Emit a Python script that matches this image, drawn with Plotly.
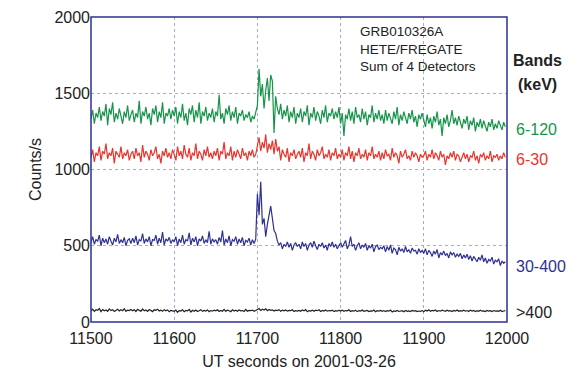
import plotly.graph_objects as go

# bin start times (UT seconds), 2 s bins
t = list(range(11500, 12000, 2))

# 6-120 keV
green = [
    1330,1390,1300,1370,1340,1410,1320,1380,1350,1430,1290,1400,1360,1440,1310,1370,1330,1400,1350,1300,1380,1340,1420,1320,1360,
    1390,1310,1370,1340,1450,1300,1380,1350,1410,1330,1370,1290,1400,1360,1420,1310,1380,1340,1440,1300,1370,1350,1400,1330,1390,
    1350,1410,1300,1380,1340,1430,1320,1370,1290,1400,1360,1420,1310,1390,1340,1440,1300,1380,1350,1410,1320,1370,1340,1400,1310,
    1380,1350,1490,1330,1370,1300,1400,1360,1420,1320,1380,1340,1410,1300,1370,1350,1390,1320,1360,1340,1380,1310,1350,1330,1370,
    1420,1660,1480,1560,1400,1520,1600,1450,1620,1580,1240,1480,1400,1360,1430,1330,1390,1350,1420,1310,1380,1340,1410,1300,1370,
    1340,1400,1310,1380,1350,1420,1290,1370,1340,1410,1320,1380,1350,1300,1390,1340,1420,1310,1370,1350,1400,1330,1380,1340,1410,
    1300,1370,1220,1360,1330,1400,1320,1380,1300,1410,1340,1360,1310,1400,1330,1380,1290,1360,1340,1420,1310,1370,1330,1390,1320,
    1360,1300,1390,1320,1370,1340,1300,1380,1330,1410,1290,1360,1320,1380,1340,1300,1370,1330,1390,1310,1350,1280,1360,1330,1370,
    1320,1280,1360,1300,1340,1270,1350,1310,1380,1290,1330,1220,1340,1300,1360,1280,1320,1390,1300,1340,1290,1350,1310,1270,1330,
    1300,1350,1260,1320,1290,1340,1250,1310,1280,1330,1270,1320,1290,1250,1310,1280,1330,1260,1300,1270,1320,1290,1260,1310,1280,
]

# 6-30 keV
red = [
    1080,1130,1050,1110,1090,1150,1060,1120,1100,1170,1070,1110,1090,1140,1040,1120,1100,1080,1150,1070,1110,1090,1130,1060,1100,
    1120,1070,1140,1090,1110,1050,1160,1080,1120,1100,1060,1130,1090,1110,1150,1070,1100,1040,1120,1090,1140,1080,1110,1070,1130,
    1100,1060,1150,1090,1120,1070,1160,1100,1080,1140,1060,1110,1090,1170,1070,1120,1100,1060,1130,1090,1150,1080,1110,1070,1120,
    1090,1140,1060,1120,1100,1180,1070,1110,1090,1150,1060,1120,1080,1130,1100,1070,1140,1090,1110,1060,1120,1090,1130,1080,1100,
    1150,1210,1120,1180,1140,1230,1110,1170,1130,1190,1100,1200,1120,1150,1060,1130,1100,1080,1140,1050,1110,1090,1130,1070,1100,
    1120,1080,1140,1050,1110,1090,1170,1070,1120,1100,1060,1130,1090,1110,1150,1070,1100,1080,1130,1060,1110,1090,1140,1070,1100,
    1080,1130,1060,1110,1090,1150,1070,1120,1050,1110,1090,1140,1070,1100,1080,1130,1060,1110,1090,1150,1070,1100,1080,1120,1060,
    1110,1070,1130,1090,1100,1060,1140,1080,1110,1090,1040,1120,1080,1100,1130,1070,1090,1060,1120,1080,1110,1090,1050,1100,1080,
    1090,1120,1060,1100,1080,1130,1070,1110,1090,1060,1120,1080,1100,1030,1090,1070,1110,1080,1120,1060,1100,1090,1050,1080,1110,
    1070,1100,1050,1090,1080,1120,1060,1090,1040,1100,1080,1110,1060,1090,1070,1120,1050,1090,1080,1100,1060,1090,1070,1110,1080,
]

# 30-400 keV
blue = [
    520,560,510,540,530,570,500,550,520,545,510,560,530,505,550,525,575,515,540,520,555,500,535,545,515,
    550,520,565,505,540,530,580,515,545,525,560,500,540,535,570,510,550,520,590,505,545,530,555,515,540,
    525,560,500,545,520,570,510,540,530,585,505,550,525,560,500,545,530,565,515,540,520,595,510,545,525,
    540,510,555,525,600,505,545,520,565,500,540,530,560,510,545,520,555,500,535,525,550,505,540,515,545,
    840,700,920,640,680,560,640,700,760,680,600,580,530,505,520,480,510,495,525,490,515,470,505,520,495,
    510,480,525,495,515,470,505,520,490,530,500,475,510,495,520,485,505,470,515,495,525,490,510,480,500,
    520,490,510,535,480,505,560,495,510,470,500,520,480,505,490,515,470,500,485,510,460,495,505,475,490,
    480,500,460,495,470,505,450,485,475,440,490,465,480,455,495,460,475,450,485,465,470,445,480,455,470,
    450,480,440,470,455,430,465,445,475,420,455,440,465,435,450,420,460,440,455,425,445,430,450,415,440,
    420,445,410,435,400,430,415,395,425,405,440,395,420,385,410,400,425,380,405,395,415,370,400,385,395,
]

# >400 keV
black = [
    72,84,70,80,76,88,68,82,74,79,70,86,75,81,69,77,84,72,80,74,87,70,78,75,82,
    74,80,69,83,76,71,85,73,79,70,82,75,68,80,77,84,72,78,70,81,74,79,67,76,73,
    70,78,64,75,72,80,68,76,73,82,66,77,71,79,69,74,81,70,76,72,79,68,75,71,77,
    73,80,69,76,71,83,70,78,74,68,80,72,77,70,79,73,75,69,82,71,76,74,78,70,75,
    80,88,76,84,79,86,74,82,77,80,72,78,75,81,70,77,73,79,71,76,74,80,69,75,72,
    76,70,79,73,81,68,75,72,78,70,77,74,80,69,76,72,79,71,75,73,78,68,74,71,77,
    72,78,70,75,73,80,69,74,71,77,68,75,72,79,70,74,76,69,73,71,78,67,74,72,76,
    70,75,68,74,71,78,66,73,70,76,69,72,74,67,75,70,73,69,76,71,74,68,72,70,75,
    68,78,72,80,70,76,73,79,69,75,71,77,74,70,78,72,75,69,76,71,79,70,74,72,77,
    71,75,69,78,72,76,68,74,70,77,71,73,69,76,72,74,68,75,71,73,70,77,69,72,74,
]

bands = ["6-120", "6-30", "30-400", ">400"]
colors = ["#16944a", "#e8352d", "#2e3192", "#222222"]
label_y = [1260, 1065, 364, 65]

FAM = "Liberation Sans, Arial, sans-serif"
FRAME = "#2e3192"

fig = go.Figure()
for name, ys, col in zip(bands, [green, red, blue, black], colors):
    fig.add_trace(go.Scatter(x=t, y=ys, mode="lines", name=name,
                             line=dict(color=col, width=1.2), cliponaxis=False))

font = dict(family=FAM, size=16, color="#222")

for name, yv, col in zip(bands, label_y, colors):
    fig.add_annotation(x=12000, y=yv, xref="x", yref="y", text=name, showarrow=False,
                       xanchor="left", xshift=7, font=dict(size=16, color=col, family=FAM))

fig.add_annotation(x=12000, y=1714, xref="x", yref="y", text="<b>Bands</b>", showarrow=False,
                   xanchor="left", xshift=4, font=font)
fig.add_annotation(x=12000, y=1558, xref="x", yref="y", text="<b>(keV)</b>", showarrow=False,
                   xanchor="left", xshift=9, font=font)

fig.add_annotation(x=11821, y=1965, xref="x", yref="y",
                   text="GRB010326A<br>HETE/FREGATE<br>Sum of 4 Detectors",
                   showarrow=False, xanchor="left", yanchor="top", align="left",
                   font=dict(size=13.5, color="#222", family=FAM))

# plot frame
fig.add_shape(type="rect", xref="paper", yref="paper", x0=0, y0=0, x1=1, y1=1,
              line=dict(color=FRAME, width=1.5), layer="above")

axis_common = dict(showline=False, showgrid=True, gridcolor="#a3a9d8", griddash="dot",
                   gridwidth=1, zeroline=False, ticks="", tickfont=font, automargin=False,
                   ticklabeloverflow="allow")

fig.update_xaxes(range=[11500, 12000], dtick=100, tickformat="d", ticklabelstandoff=5,
                 title=dict(text="UT seconds on 2001-03-26", font=font, standoff=9),
                 **axis_common)
fig.update_yaxes(range=[0, 2000], dtick=500, tickformat="d",
                 title=dict(text="Counts/s", font=font, standoff=8),
                 **axis_common)

# page body adds an 8px margin, so size the figure to the visible window
fig.update_layout(width=569, height=367, margin=dict(l=83, r=70, t=9, b=53),
                  plot_bgcolor="white", paper_bgcolor="white", showlegend=False)

fig.write_html("out.html")
